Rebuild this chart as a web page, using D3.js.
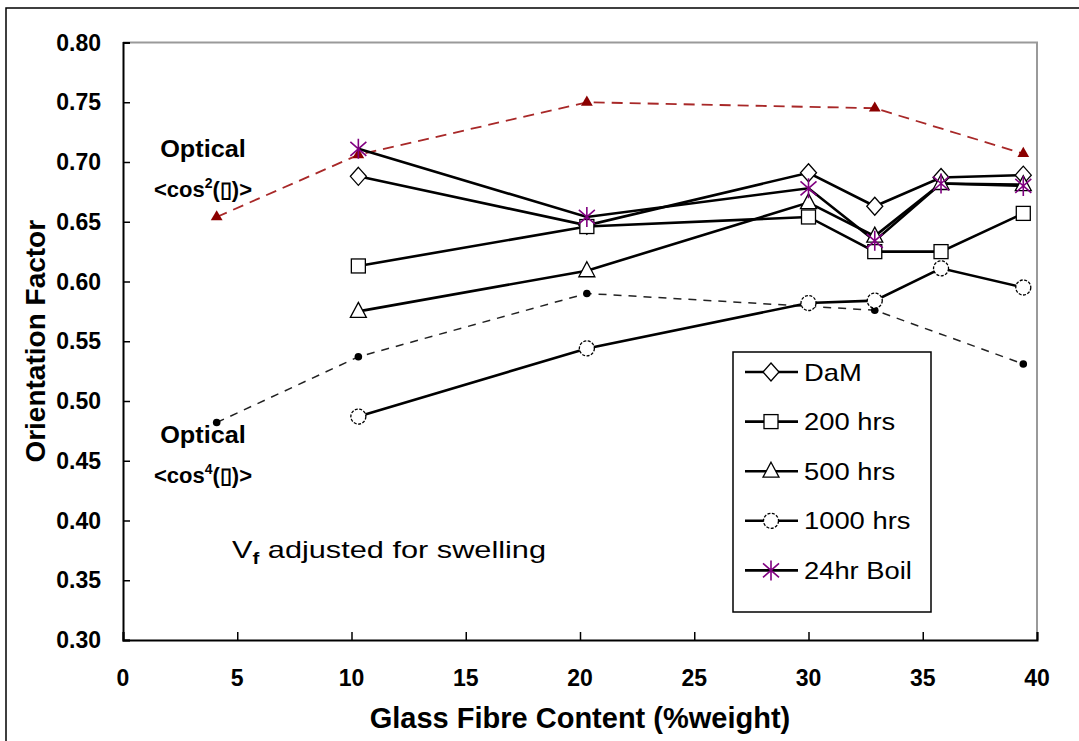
<!DOCTYPE html>
<html>
<head>
<meta charset="utf-8">
<script src="https://cdn.jsdelivr.net/npm/d3@7"></script>
<style>
  html, body { margin: 0; padding: 0; background: #fff; }
  svg { display: block; font-family: "Liberation Sans", Arial, sans-serif; }
</style>
</head>
<body>
<svg id="chart" width="1079" height="741"></svg>
<script>
// Glass fibre content (% weight) for the ageing series
const fibreContent = [10.3, 20.3, 30.0, 32.9, 35.8, 39.4];
// Glass fibre content for the optical reference series
const opticalContent = [4.1, 10.3, 20.3, 32.9, 39.4];

const seriesNames = ["DaM", "200 hrs", "500 hrs", "1000 hrs", "24hr Boil"];
const damValues   = [0.688, 0.647, 0.691, 0.663, 0.687, 0.689];
const h200Values  = [0.613, 0.646, 0.654, 0.625, 0.625, 0.657];
const h500Values  = [0.575, 0.609, 0.666, 0.638, 0.682, 0.681];
const h1000Values = [0.487, 0.544, 0.582, 0.584, 0.611, 0.595];
const boilValues  = [0.711, 0.654, 0.678, 0.634, 0.682, 0.680];

const opticalCos2 = [0.654, 0.706, 0.750, 0.745, 0.707];
const opticalCos4 = [0.482, 0.537, 0.590, 0.576, 0.531];

const xTicks = [0, 5, 10, 15, 20, 25, 30, 35, 40];
const yTicks = [0.30, 0.35, 0.40, 0.45, 0.50, 0.55, 0.60, 0.65, 0.70, 0.75, 0.80];

const svg = d3.select("#chart");
const plot = { left: 123, right: 1037, top: 42.5, bottom: 640 };

const x = d3.scaleLinear().domain([0, 40]).range([plot.left, plot.right]);
const y = d3.scaleLinear().domain([0.30, 0.80]).range([plot.bottom, plot.top]);

// Outer chart frame
svg.append("rect")
  .attr("x", 6).attr("y", 8).attr("width", 1100).attr("height", 760)
  .attr("fill", "none").attr("stroke", "#000").attr("stroke-width", 1.5);

// Plot area border (grey top/right)
svg.append("path")
  .attr("d", `M${plot.left},${plot.top}H${plot.right}V${plot.bottom}`)
  .attr("fill", "none").attr("stroke", "#9a9a9a").attr("stroke-width", 2);

// Axes with inward ticks
const xAxis = svg.append("g")
  .attr("transform", `translate(0,${plot.bottom})`)
  .call(d3.axisTop(x).tickValues(xTicks).tickSize(8).tickFormat(""));
const yAxis = svg.append("g")
  .attr("transform", `translate(${plot.left},0)`)
  .call(d3.axisRight(y).tickValues(yTicks).tickSize(7).tickFormat(""));
[xAxis, yAxis].forEach(g => {
  g.select(".domain").attr("stroke", "#000").attr("stroke-width", 2);
  g.selectAll(".tick line").attr("stroke", "#000").attr("stroke-width", 1.5);
});

// Tick labels
svg.append("g").selectAll("text").data(xTicks).join("text")
  .attr("x", d => x(d)).attr("y", 686)
  .attr("text-anchor", "middle")
  .attr("font-size", 23).attr("font-weight", "bold")
  .text(d => d);
svg.append("g").selectAll("text").data(yTicks).join("text")
  .attr("x", 101).attr("y", d => y(d) + 8)
  .attr("text-anchor", "end")
  .attr("font-size", 23).attr("font-weight", "bold")
  .text(d => d3.format(".2f")(d));

// Axis titles
svg.append("text")
  .attr("x", (plot.left + plot.right) / 2).attr("y", 728)
  .attr("text-anchor", "middle")
  .attr("font-size", 29).attr("font-weight", "bold")
  .text("Glass Fibre Content (%weight)");
svg.append("text")
  .attr("transform", `translate(45,${(plot.top + plot.bottom) / 2}) rotate(-90)`)
  .attr("text-anchor", "middle")
  .attr("font-size", 28).attr("font-weight", "bold")
  .text("Orientation Factor");

const line = d3.line().x(d => x(d[0])).y(d => y(d[1]));

// Optical reference series
const cos2Pts = opticalContent.map((c, i) => [c, opticalCos2[i]]);
const cos4Pts = opticalContent.map((c, i) => [c, opticalCos4[i]]);

svg.append("path").datum(cos2Pts).attr("d", line)
  .attr("fill", "none").attr("stroke", "#a82828").attr("stroke-width", 1.8)
  .attr("stroke-dasharray", "11,7");
svg.append("path").datum(cos4Pts).attr("d", line)
  .attr("fill", "none").attr("stroke", "#222").attr("stroke-width", 1.5)
  .attr("stroke-dasharray", "8,7");

const triSym = d3.symbol().type(d3.symbolTriangle);
svg.append("g").selectAll("path").data(cos2Pts).join("path")
  .attr("transform", d => `translate(${x(d[0])},${y(d[1])})`)
  .attr("d", triSym.size(60)())
  .attr("fill", "#8b0000");
svg.append("g").selectAll("circle").data(cos4Pts).join("circle")
  .attr("cx", d => x(d[0])).attr("cy", d => y(d[1])).attr("r", 3.8)
  .attr("fill", "#000");

// Ageing series
const allSeries = [damValues, h200Values, h500Values, h1000Values, boilValues];
const markerKinds = ["diamond", "square", "triangle", "circle", "star"];

function drawMarker(g, kind, cx, cy) {
  const s = g.append("g").attr("transform", `translate(${cx},${cy})`);
  if (kind === "diamond") {
    s.append("path").attr("d", "M0,-9L8,0L0,9L-8,0Z")
      .attr("fill", "#fff").attr("stroke", "#000").attr("stroke-width", 1.3);
  } else if (kind === "square") {
    s.append("rect").attr("x", -7).attr("y", -7).attr("width", 14).attr("height", 14)
      .attr("fill", "#fff").attr("stroke", "#000").attr("stroke-width", 1.3);
  } else if (kind === "triangle") {
    s.append("path").attr("d", "M0,-9L8,6L-8,6Z")
      .attr("fill", "#fff").attr("stroke", "#000").attr("stroke-width", 1.3);
  } else if (kind === "circle") {
    s.append("circle").attr("r", 7.5)
      .attr("fill", "#fff").attr("stroke", "#000").attr("stroke-width", 1.3)
      .attr("stroke-dasharray", "3,1.5");
  } else if (kind === "star") {
    s.append("path").attr("d", "M0,-10V10M-8,-7L8,7M-8,7L8,-7")
      .attr("stroke", "#800080").attr("stroke-width", 1.6).attr("fill", "none");
  }
}

allSeries.forEach((vals, si) => {
  const pts = fibreContent.map((c, i) => [c, vals[i]]);
  svg.append("path").datum(pts).attr("d", line)
    .attr("fill", "none").attr("stroke", "#000").attr("stroke-width", 2.6);
});
allSeries.forEach((vals, si) => {
  const g = svg.append("g");
  fibreContent.forEach((c, i) => drawMarker(g, markerKinds[si], x(c), y(vals[i])));
});

// Annotations
function annot(cx, cyTop, power) {
  svg.append("text")
    .attr("transform", `translate(${cx},${cyTop}) scale(1.1,1)`)
    .attr("text-anchor", "middle").attr("font-size", 23).attr("font-weight", "bold")
    .text("Optical");
  const t = svg.append("text").attr("x", cx).attr("y", cyTop + 40)
    .attr("text-anchor", "middle").attr("font-size", 22).attr("font-weight", "bold");
  t.append("tspan").text("<cos");
  t.append("tspan").attr("font-size", 14).attr("dy", -9).text(power);
  t.append("tspan").attr("dy", 9).text("(\u25AF)>");
}
annot(203, 157, "2");
annot(203, 443, "4");

const vf = svg.append("text")
  .attr("transform", "translate(232,558) scale(1.28,1)")
  .attr("font-size", 24);
vf.append("tspan").text("V");
vf.append("tspan").attr("font-size", 16).attr("dy", 6).attr("font-weight", "bold").text("f");
vf.append("tspan").attr("dy", -6).text(" adjusted for swelling");

// Legend
const lg = { x: 733, y: 352, w: 198, h: 260 };
svg.append("rect").attr("x", lg.x).attr("y", lg.y).attr("width", lg.w).attr("height", lg.h)
  .attr("fill", "#fff").attr("stroke", "#000").attr("stroke-width", 1.5);
seriesNames.forEach((name, i) => {
  const cy = 372 + i * 49.6;
  svg.append("line").attr("x1", 745).attr("x2", 798).attr("y1", cy).attr("y2", cy)
    .attr("stroke", "#000").attr("stroke-width", 2.6);
  drawMarker(svg, markerKinds[i], 771, cy);
  svg.append("text")
    .attr("transform", `translate(804,${cy + 8.5}) scale(1.14,1)`)
    .attr("font-size", 24).text(name);
});
</script>
</body>
</html>
